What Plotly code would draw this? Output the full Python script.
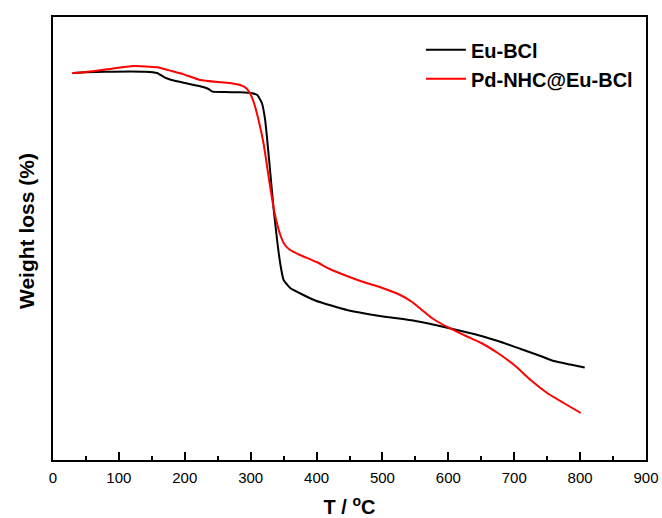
import plotly.graph_objects as go

# Eu-BCl
t_eu = [30, 50, 80, 140, 158, 170, 180, 200, 228, 236, 242, 260, 284, 300, 310, 317, 322, 328, 335, 341, 346, 350, 360, 380, 400, 446, 496, 550, 600, 650, 680, 710, 740, 760, 785, 807]
w_eu = [100.0, 100.1, 100.2, 100.2, 100.0, 99.3, 98.95, 98.5, 97.9, 97.6, 97.2, 97.15, 97.1, 97.0, 96.7, 95.5, 92.95, 86.95, 79.45, 74.2, 70.75, 68.95, 67.75, 66.7, 65.8, 64.45, 63.55, 62.8, 61.75, 60.55, 59.65, 58.6, 57.55, 56.8, 56.275, 55.825]

# Pd-NHC@Eu-BCl
t_pd = [29, 50, 82, 122, 158, 180, 193, 210, 223, 250, 264, 284, 293, 299, 305, 312, 320, 328, 336, 345, 352, 360, 375, 400, 420, 450, 471, 500, 527, 545, 560, 575, 590, 605, 630, 650, 675, 700, 725, 750, 775, 801]
w_pd = [99.95, 100.15, 100.55, 101.05, 100.85, 100.3, 99.95, 99.4, 98.95, 98.65, 98.55, 98.2, 97.75, 96.95, 95.5, 92.95, 89.2, 83.95, 79.15, 75.7, 74.2, 73.45, 72.7, 71.65, 70.6, 69.4, 68.65, 67.75, 66.7, 65.65, 64.45, 63.25, 62.35, 61.6, 60.4, 59.5, 58.0, 56.2, 53.95, 52.0, 50.5, 49.0]

x_ticks = [0, 100, 200, 300, 400, 500, 600, 700, 800, 900]

font = "Liberation Sans, Arial, sans-serif"

fig = go.Figure()
fig.add_trace(go.Scatter(x=t_eu, y=w_eu, mode="lines", name="<b>Eu-BCl</b>",
                         line=dict(color="#000000", width=2, shape="spline", smoothing=0.4)))
fig.add_trace(go.Scatter(x=t_pd, y=w_pd, mode="lines", name="<b>Pd-NHC@Eu-BCl</b>",
                         line=dict(color="#ff0000", width=2, shape="spline", smoothing=0.4)))

fig.add_annotation(text="<b>Weight loss (%)</b>", textangle=-90,
                   xref="paper", yref="paper", x=-0.0438, y=0.517,
                   xanchor="center", yanchor="middle", showarrow=False,
                   font=dict(size=21, family=font, color="black"))

fig.update_layout(
    width=662, height=518,
    margin=dict(l=53, r=16, t=17, b=58, autoexpand=False),
    paper_bgcolor="white", plot_bgcolor="white",
    font=dict(family=font, color="black", size=15),
    showlegend=True,
    legend=dict(x=0.6205, y=0.97, xanchor="left", yanchor="top",
                bgcolor="rgba(0,0,0,0)", font=dict(size=20, family=font),
                tracegroupgap=0, itemwidth=40),
    xaxis=dict(range=[0, 900], tickvals=x_ticks, ticktext=[str(v) for v in x_ticks],
               automargin=False,
               showline=True, linecolor="black", linewidth=1.5, mirror=True,
               ticks="inside", ticklen=8, tickwidth=1.5, tickcolor="black",
               ticklabelstandoff=3,
               minor=dict(ticks="inside", ticklen=4, tickwidth=1.5, tickcolor="black", dtick=50, showgrid=False),
               showgrid=False, zeroline=False,
               tickfont=dict(size=15),
               title=dict(text="<b>T / <sup>o</sup>C</b>", font=dict(size=20), standoff=17)),
    yaxis=dict(range=[41.95, 108.4], showticklabels=False, ticks="",
               automargin=False,
               showline=True, linecolor="black", linewidth=1.5, mirror=True,
               showgrid=False, zeroline=False),
)

fig.write_html("out.html", config={"displayModeBar": False},
               post_script="document.body.style.margin='0px';")
